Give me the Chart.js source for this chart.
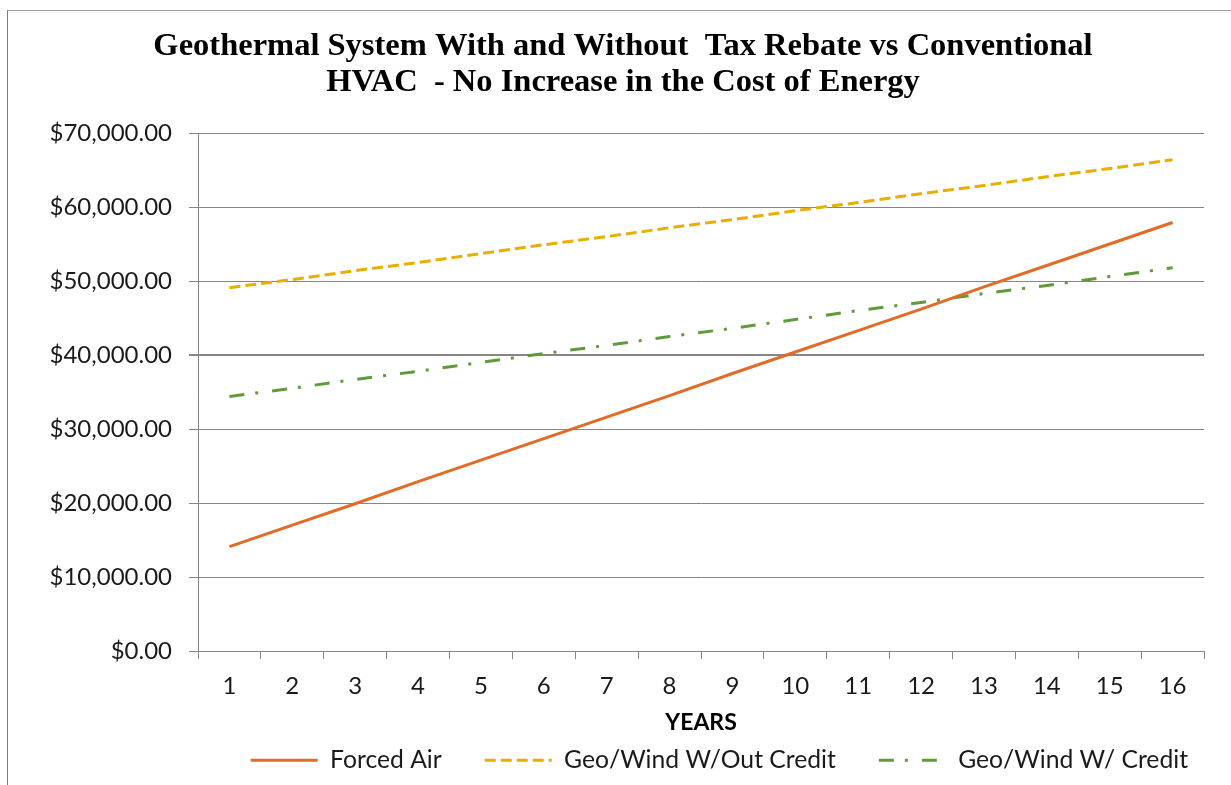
<!DOCTYPE html>
<html>
<head>
<meta charset="utf-8">
<title>Geothermal vs Conventional HVAC</title>
<script src="https://cdn.jsdelivr.net/npm/chart.js@4/dist/chart.umd.min.js"></script>
<style>
  html, body { margin: 0; padding: 0; background: #ffffff; }
  #wrap { position: relative; width: 1231px; height: 785px; overflow: hidden; }
  #chart { position: absolute; left: 0; top: 0; }
  .frame-top { position: absolute; left: 7px; top: 10px; width: 1224px; height: 1px; background: #a6a6a6; }
  .frame-left { position: absolute; left: 7px; top: 10px; width: 1px; height: 775px; background: #7f7f7f; }
</style>
</head>
<body>
<div id="wrap">
  <canvas id="chart" width="1231" height="785"></canvas>
  <div class="frame-top"></div>
  <div class="frame-left"></div>
</div>
<script>
// Years on the horizontal axis
const years = ['1', '2', '3', '4', '5', '6', '7', '8', '9', '10', '11', '12', '13', '14', '15', '16'];

// Cumulative cost of each system, in dollars
const forcedAir = [14100, 17000, 19900, 22900, 25800, 28700, 31600, 34500, 37500, 40400, 43300, 46200, 49200, 52100, 55000, 57900];
const geoWindNoCredit = [49100, 50200, 51400, 52500, 53700, 54900, 56000, 57200, 58300, 59500, 60600, 61800, 62900, 64100, 65200, 66400];
const geoWindCredit = [34400, 35500, 36700, 37800, 39000, 40200, 41300, 42500, 43600, 44800, 46000, 47100, 48300, 49400, 50600, 51800];

const seriesNames = ['Forced Air', 'Geo/Wind W/Out Credit', 'Geo/Wind W/ Credit'];

const titleLines = ['Geothermal System With and Without  Tax Rebate vs Conventional', 'HVAC  - No Increase in the Cost of Energy'];
const xAxisTitle = 'YEARS';

const gridGray = '#868686';
const textColor = '#1a1a1a';
const sansFamily = 'Lato, "Open Sans", sans-serif';

function money(v) {
  return '$' + Number(v).toLocaleString('en-US', { minimumFractionDigits: 2, maximumFractionDigits: 2 });
}

// Legend samples drawn as short lines carrying each series' own dash pattern
function legendItems(chart) {
  const items = Chart.defaults.plugins.legend.labels.generateLabels(chart);
  items.forEach((item, i) => {
    const ds = chart.data.datasets[i];
    item.pointStyle = 'line';
    item.strokeStyle = ds.borderColor;
    item.fillStyle = ds.borderColor;
    item.lineWidth = ds.borderWidth;
    item.lineDash = ds.borderDash || [];
    item.lineDashOffset = 0;
    item.lineCap = 'butt';
  });
  return items;
}

const ctx = document.getElementById('chart').getContext('2d');
new Chart(ctx, {
  type: 'line',
  data: {
    labels: years,
    datasets: [
      {
        label: seriesNames[0],
        data: forcedAir,
        borderColor: '#e06c28',
        backgroundColor: '#e06c28',
        borderWidth: 3,
        pointRadius: 0,
        tension: 0,
        fill: false
      },
      {
        label: seriesNames[1],
        data: geoWindNoCredit,
        borderColor: '#e8ae00',
        backgroundColor: '#e8ae00',
        borderWidth: 3,
        borderDash: [11, 5],
        pointRadius: 0,
        tension: 0,
        fill: false
      },
      {
        label: seriesNames[2],
        data: geoWindCredit,
        borderColor: '#5f9b3b',
        backgroundColor: '#5f9b3b',
        borderWidth: 3,
        borderDash: [15, 11, 3, 14],
        pointRadius: 0,
        tension: 0,
        fill: false
      }
    ]
  },
  options: {
    responsive: false,
    animation: false,
    devicePixelRatio: 1,
    layout: { padding: { left: 15, right: 0, top: 12, bottom: 2.5 } },
    plugins: {
      title: {
        display: true,
        text: titleLines,
        color: '#000000',
        font: { family: '"Liberation Serif", "Times New Roman", serif', size: 32.5, weight: 'bold', lineHeight: 36 / 32.5 },
        padding: { top: 17, bottom: 32 }
      },
      legend: {
        display: true,
        position: 'bottom',
        align: 'end',
        labels: {
          usePointStyle: true,
          pointStyle: 'line',
          pointStyleWidth: 67,
          padding: 43,
          color: textColor,
          font: { family: sansFamily, size: 24.7 },
          generateLabels: legendItems
        }
      },
      tooltip: { enabled: false }
    },
    scales: {
      x: {
        type: 'category',
        offset: true,
        grid: {
          display: true,
          drawOnChartArea: false,
          drawTicks: true,
          tickLength: 8,
          color: gridGray,
          offset: true
        },
        border: { display: true, color: gridGray, width: 1 },
        ticks: {
          color: textColor,
          padding: 13,
          maxRotation: 0,
          autoSkip: false,
          font: { family: sansFamily, size: 24 }
        },
        title: {
          display: true,
          text: xAxisTitle,
          color: '#000000',
          font: { family: sansFamily, size: 23, weight: 'bold', lineHeight: 1.2 },
          padding: { top: 0, bottom: -31.5 }
        },
        afterFit: s => { s.height = 53.8; }
      },
      y: {
        type: 'linear',
        position: 'left',
        min: 0,
        max: 70000,
        grid: {
          color: gridGray,
          lineWidth: c => (c.tick && c.tick.value === 40000 ? 2 : 1),
          drawTicks: true,
          tickLength: 9
        },
        border: { display: true, color: gridGray, width: 1 },
        ticks: {
          stepSize: 10000,
          color: textColor,
          padding: 17,
          font: { family: sansFamily, size: 24 },
          callback: v => money(v)
        },
        afterFit: s => { s.width = 183; }
      },
      rightGutter: {
        type: 'linear',
        position: 'right',
        display: true,
        grid: { display: false, drawOnChartArea: false, drawTicks: false },
        border: { display: false },
        ticks: { display: false },
        afterFit: s => { s.width = 27; }
      }
    }
  }
});
</script>
</body>
</html>
